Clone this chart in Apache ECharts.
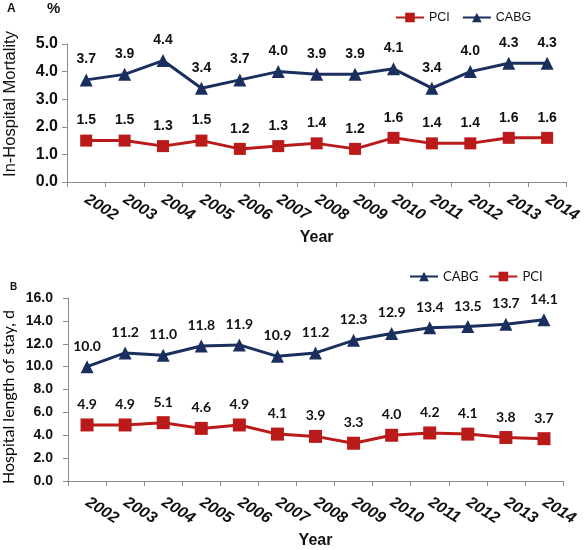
<!DOCTYPE html>
<html>
<head>
<meta charset="utf-8">
<script src="https://cdn.jsdelivr.net/npm/echarts@6/dist/echarts.min.js"></script>
<style>html,body{margin:0;padding:0;background:#fff}#c{width:584px;height:550px}</style>
</head>
<body>
<div id="c"></div>
<script>
var years = ['2002','2003','2004','2005','2006','2007','2008','2009','2010','2011','2012','2013','2014'];
var mortalityPCI  = [1.5,1.5,1.3,1.5,1.2,1.3,1.4,1.2,1.6,1.4,1.4,1.6,1.6];
var mortalityCABG = [3.7,3.9,4.4,3.4,3.7,4.0,3.9,3.9,4.1,3.4,4.0,4.3,4.3];
var stayCABG = [10.0,11.2,11.0,11.8,11.9,10.9,11.2,12.3,12.9,13.4,13.5,13.7,14.1];
var stayPCI  = [4.9,4.9,5.1,4.6,4.9,4.1,3.9,3.3,4.0,4.2,4.1,3.8,3.7];

var NAVY = '#1b2f5e', RED = '#bb1a1a';
var ARIAL = 'Liberation Sans', CAL = 'Lato';

function xAx(gi, gap, labelMargin) {
  return {
    type: 'category', gridIndex: gi, data: years, boundaryGap: true,
    axisLine: {lineStyle: {color: '#8c8c8c', width: 1}},
    axisTick: {show: true, length: 5, lineStyle: {color: '#8c8c8c'}},
    axisLabel: {interval: 0, rotate: -32, margin: labelMargin, color: '#111', fontFamily: ARIAL,
      fontWeight: 'bold', fontStyle: 'italic', fontSize: 16},
    name: 'Year', nameLocation: 'middle', nameGap: gap,
    nameTextStyle: {fontFamily: ARIAL, fontWeight: 'bold', fontSize: 16, color: '#111'}
  };
}
function yAx(gi, max, interval, fs, margin) {
  return {
    type: 'value', gridIndex: gi, min: 0, max: max, interval: interval,
    splitLine: {show: false},
    axisLine: {show: true, lineStyle: {color: '#8c8c8c', width: 1}},
    axisTick: {show: true, length: 5, lineStyle: {color: '#8c8c8c'}},
    axisLabel: {formatter: function (v) { return v.toFixed(1); }, color: '#111',
      fontFamily: ARIAL, fontWeight: 'bold', fontSize: fs, margin: margin}
  };
}
function ser(name, xi, data, color, symbol, size, font, fs) {
  return {
    name: name, type: 'line', xAxisIndex: xi, yAxisIndex: xi, data: data,
    symbol: symbol, symbolSize: size,
    lineStyle: {color: color, width: 3},
    itemStyle: {color: color},
    label: {show: true, position: 'top', distance: 7, color: '#111',
      fontFamily: font, fontWeight: 'bold', fontSize: fs,
      formatter: function (p) { return p.value.toFixed(1); }},
    animation: false
  };
}

var chart = echarts.init(document.getElementById('c'), null, {renderer: 'canvas'});
chart.setOption({
  animation: false,
  grid: [
    {left: 67, right: 15, top: 44, height: 138},
    {left: 68, right: 21, top: 298, height: 184}
  ],
  legend: [
    {data: ['PCI', 'CABG'], left: 390, top: 6, itemWidth: 28, itemHeight: 12, itemGap: 12,
      textStyle: {fontFamily: ARIAL, fontSize: 12.5, color: '#111'}},
    {data: ['CABG', 'PCI'], left: 404, top: 265, itemWidth: 28, itemHeight: 12, itemGap: 10,
      textStyle: {fontFamily: CAL, fontSize: 13, color: '#111'}}
  ],
  xAxis: [xAx(0, 48, 16), xAx(1, 52, 20)],
  yAxis: [yAx(0, 5, 1, 16, 9), yAx(1, 16, 2, 14, 15)],
  series: [
    ser('PCI', 0, mortalityPCI, RED, 'rect', 12, ARIAL, 14),
    ser('CABG', 0, mortalityCABG, NAVY, 'triangle', 13, ARIAL, 14),
    ser('CABG', 1, stayCABG, NAVY, 'triangle', 13, CAL, 14),
    ser('PCI', 1, stayPCI, RED, 'rect', 13, CAL, 14)
  ],
  graphic: [
    {type: 'text', left: 7, top: 3, style: {text: 'A', font: 'bold 12px "Liberation Sans"', fill: '#111'}},
    {type: 'text', left: 47, top: 1, style: {text: '%', font: 'bold 15px "Liberation Sans"', fill: '#111'}},
    {type: 'text', left: 10, top: 282, style: {text: 'B', font: 'bold 10px "Liberation Sans"', fill: '#111'}},
    {type: 'text', x: 10, y: 104, rotation: Math.PI / 2,
      style: {text: 'In-Hospital Mortality', font: '16.5px "Liberation Sans"', fill: '#111', align: 'center', verticalAlign: 'middle'}},
    {type: 'text', x: 9, y: 397, rotation: Math.PI / 2,
      style: {text: 'Hospital length of stay, d', font: '16px Lato', fill: '#000', align: 'center', verticalAlign: 'middle'}}
  ]
});
</script>
</body>
</html>
